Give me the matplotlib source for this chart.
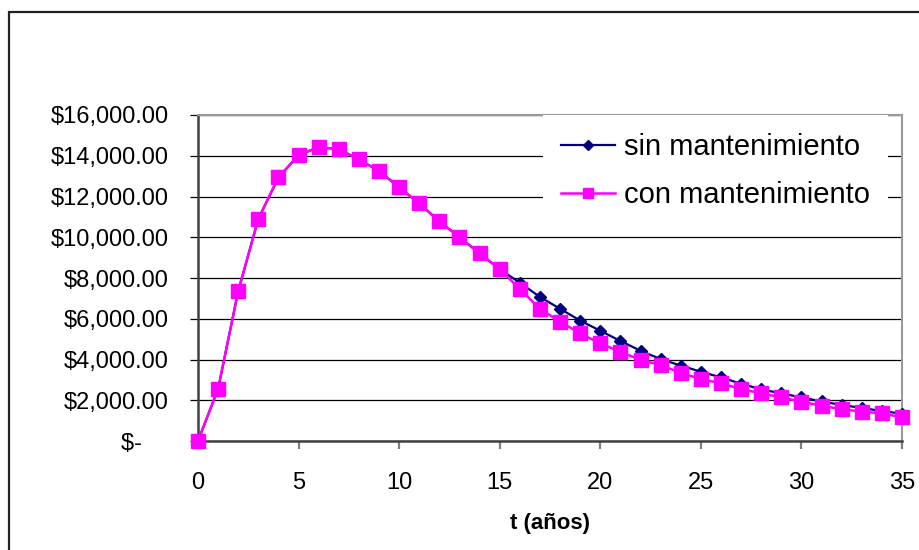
import numpy as np
import matplotlib.pyplot as plt
from matplotlib.patches import Rectangle
from matplotlib.ticker import FuncFormatter, MultipleLocator

# valor de la maquina por año
t_anios = list(range(0, 36))
con_mant = [0, 2560, 7360, 10900, 12940, 14020, 14430, 14320, 13820, 13250,
            12450, 11660, 10780, 10000, 9210, 8430, 7460, 6480, 5860, 5280,
            4790, 4380, 3980, 3730, 3340, 3040, 2830, 2550, 2340, 2140,
            1930, 1730, 1560, 1440, 1360, 1160]
sin_mant = [0, 2560, 7360, 10900, 12940, 14020, 14430, 14320, 13820, 13250,
            12450, 11660, 10780, 10000, 9210, 8430, 7770, 7070, 6490, 5910,
            5410, 4910, 4430, 4020, 3700, 3400, 3120, 2810, 2530, 2340,
            2140, 1940, 1770, 1620, 1470, 1340]

W, H = 920, 550
plt.rcParams['font.family'] = ['Liberation Sans', 'DejaVu Sans']

fig = plt.figure(figsize=(W / 100, H / 100), dpi=100)
ax = fig.add_axes([198 / W, 1 - 441 / H, (902 - 198) / W, (441 - 115) / H])

# marco exterior del grafico
fig.add_artist(Rectangle((9 / W, -0.2), 1.2, 1.2 - 11.5 / H,
                         transform=fig.transFigure, fill=False,
                         edgecolor='#222222', lw=1.6, clip_on=False))

ax.plot(t_anios, sin_mant, color='#000080', lw=1.6, marker='D', ms=6.5,
        label='sin mantenimiento', clip_on=False, zorder=3)
ax.plot(t_anios, con_mant, color='#FF00FF', lw=1.8, marker='s', ms=9.5,
        label='con mantenimiento', clip_on=False, zorder=4)

ax.set_xlim(0, 35)
ax.set_ylim(0, 16000)
ax.xaxis.set_major_locator(MultipleLocator(5))
ax.yaxis.set_major_locator(MultipleLocator(2000))


def fmt_pesos(v, pos):
    if v == 0:
        return '$-    '
    return f'${v:,.2f}'


ax.yaxis.set_major_formatter(FuncFormatter(fmt_pesos))
ax.grid(axis='y', color='black', lw=0.9, zorder=1)
ax.set_axisbelow(True)

for s in ['top', 'right']:
    ax.spines[s].set_color('#9a9a9a')
    ax.spines[s].set_linewidth(1.5)
for s in ['left', 'bottom']:
    ax.spines[s].set_color('#404040')
    ax.spines[s].set_linewidth(1.8)

ax.tick_params(axis='y', direction='out', length=6, width=0.9, color='black',
               labelsize=17, pad=15)
ax.tick_params(axis='x', direction='out', length=6, width=1.6, color='#808080',
               labelsize=17, pad=16)
ax.set_xlabel('t (años)', fontsize=16, fontweight='bold', labelpad=14)

leg = ax.legend(loc='upper left', bbox_to_anchor=(543 / W, 1 - 115 / H),
                bbox_transform=fig.transFigure, fontsize=21,
                frameon=True, fancybox=False, framealpha=1, facecolor='white',
                edgecolor='none', borderaxespad=0, borderpad=0.62,
                handlelength=1.85, handletextpad=0.3, labelspacing=0.68,
                markerscale=0.75)
leg.set_zorder(5)

fig.savefig('out.png', dpi=100)
